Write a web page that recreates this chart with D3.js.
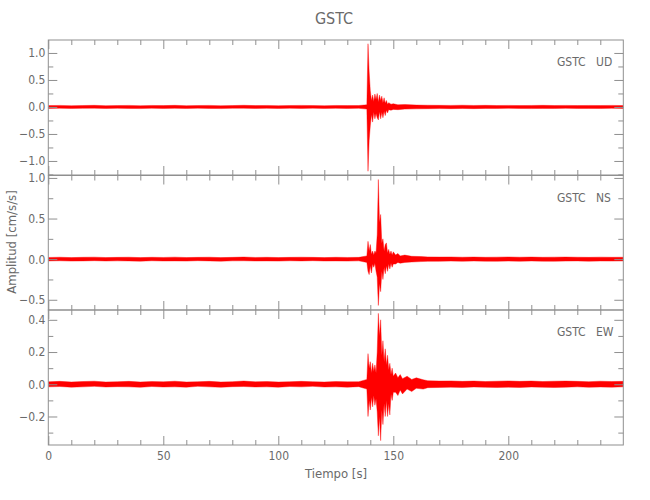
<!DOCTYPE html>
<html><head><meta charset="utf-8">
<script src="https://cdn.jsdelivr.net/npm/d3@7"></script>
<style>
body{margin:0;background:#fff}
text{font-family:"Liberation Sans Narrow","DejaVu Sans Condensed","Roboto Condensed",sans-serif;fill:#6a6a6a}
</style>
</head><body>
<svg id="c" width="650" height="500"></svg>
<script>
// ---------- DATA ----------
const station = "GSTC";
const components = ["UD", "NS", "EW"];
const xTickValues = [0, 50, 100, 150, 200];

// UD: time breakpoints [s], upper and lower envelope [cm/s/s]
const udTime = [0,5,10,15,20,25,30,35,40,45,50,55,60,65,70,75,80,85,90,95,100,105,110,115,120,125,130,135,
  138.5,139,139.5,140,140.5,141,141.5,142,142.5,143,143.5,144,144.5,145,145.5,146,146.5,147,147.5,148,
  149,150,152,155,
  160,165,170,175,180,185,190,195,200,205,210,215,220,225,230,235,240,245,250];
const udHigh = [0.025,0.029,0.023,0.027,0.030,0.024,0.026,0.029,0.023,0.028,0.025,0.030,0.024,0.027,0.029,0.023,0.026,0.031,0.025,0.028,0.024,0.027,0.029,0.026,0.023,0.028,0.025,0.027,
  0.04,1.17,0.65,0.30,0.12,0.22,0.10,0.24,0.14,0.25,0.09,0.22,0.12,0.20,0.08,0.17,0.07,0.12,0.05,0.08,
  0.05,0.06,0.04,0.045,
  0.035,0.032,0.030,0.029,0.032,0.028,0.030,0.027,0.029,0.026,0.028,0.030,0.027,0.029,0.026,0.028,0.027,0.029,0.026];
const udLow = [-0.027,-0.024,-0.028,-0.026,-0.023,-0.029,-0.025,-0.027,-0.030,-0.024,-0.028,-0.026,-0.029,-0.023,-0.027,-0.030,-0.025,-0.024,-0.028,-0.026,-0.029,-0.024,-0.027,-0.023,-0.028,-0.026,-0.029,-0.025,
  -0.04,-1.19,-0.62,-0.35,-0.14,-0.28,-0.10,-0.22,-0.12,-0.20,-0.24,-0.09,-0.22,-0.10,-0.20,-0.08,-0.16,-0.06,-0.11,-0.05,
  -0.06,-0.045,-0.05,-0.04,
  -0.035,-0.032,-0.030,-0.031,-0.028,-0.031,-0.027,-0.029,-0.026,-0.028,-0.030,-0.027,-0.029,-0.026,-0.028,-0.027,-0.029,-0.026,-0.028];

// NS
const nsTime = [0,5,10,15,20,25,30,35,40,45,50,55,60,65,70,75,80,85,90,95,100,105,110,115,120,125,130,135,
  138.5,139,139.5,140,140.5,141,141.5,142,142.5,143,143.5,144,144.5,145,145.5,146,146.5,147,147.5,148,148.5,149,149.5,150,
  151,152,153,155,158,162,
  165,170,175,180,185,190,195,200,205,210,215,220,225,230,235,240,245,250];
const nsHigh = [0.021,0.024,0.019,0.023,0.025,0.020,0.022,0.024,0.019,0.023,0.021,0.025,0.020,0.022,0.024,0.019,0.022,0.026,0.021,0.023,0.020,0.022,0.024,0.022,0.019,0.023,0.021,0.022,
  0.04,0.22,0.10,0.18,0.06,0.10,0.05,0.10,0.08,0.30,0.98,0.45,0.55,0.20,0.25,0.10,0.18,0.20,0.08,0.12,0.06,0.10,0.05,0.09,
  0.05,0.07,0.04,0.05,0.035,0.032,
  0.028,0.026,0.027,0.024,0.026,0.023,0.025,0.027,0.024,0.026,0.023,0.025,0.026,0.024,0.022,0.025,0.023,0.024];
const nsLow = [-0.022,-0.020,-0.024,-0.022,-0.019,-0.023,-0.021,-0.022,-0.025,-0.020,-0.023,-0.022,-0.024,-0.019,-0.022,-0.025,-0.021,-0.020,-0.023,-0.022,-0.024,-0.020,-0.022,-0.019,-0.023,-0.022,-0.024,-0.021,
  -0.04,-0.15,-0.19,-0.08,-0.17,-0.06,-0.10,-0.05,-0.15,-0.22,-0.57,-0.30,-0.40,-0.15,-0.25,-0.10,-0.18,-0.08,-0.15,-0.06,-0.12,-0.05,-0.10,-0.06,
  -0.06,-0.04,-0.05,-0.04,-0.035,-0.03,
  -0.027,-0.026,-0.024,-0.026,-0.023,-0.025,-0.026,-0.024,-0.026,-0.023,-0.025,-0.026,-0.024,-0.022,-0.025,-0.023,-0.024,-0.022];

// EW
const ewTime = [0,5,10,15,20,25,30,35,40,45,50,55,60,65,70,75,80,85,90,95,100,105,110,115,120,125,130,135,
  138.5,139,139.5,140,140.5,141,141.5,142,142.5,143,143.5,144,144.5,145,145.5,146,146.5,147,147.5,148,148.5,149,149.5,150,
  151,152,153,154,156,158,160,163,
  165,170,175,180,185,190,195,200,205,210,215,220,225,230,235,240,245,250];
const ewHigh = [0.015,0.018,0.014,0.017,0.019,0.014,0.016,0.018,0.014,0.017,0.015,0.019,0.014,0.016,0.018,0.014,0.016,0.020,0.015,0.017,0.014,0.016,0.018,0.016,0.014,0.017,0.015,0.016,
  0.03,0.19,0.10,0.14,0.07,0.13,0.08,0.12,0.07,0.20,0.44,0.30,0.40,0.18,0.27,0.14,0.22,0.12,0.18,0.09,0.13,0.06,0.10,0.05,
  0.07,0.04,0.06,0.035,0.05,0.03,0.04,0.028,
  0.022,0.020,0.021,0.018,0.020,0.017,0.019,0.021,0.018,0.020,0.017,0.019,0.020,0.018,0.016,0.019,0.017,0.018];
const ewLow = [-0.016,-0.014,-0.018,-0.016,-0.013,-0.017,-0.015,-0.016,-0.019,-0.014,-0.017,-0.016,-0.018,-0.013,-0.016,-0.019,-0.015,-0.014,-0.017,-0.016,-0.018,-0.014,-0.016,-0.013,-0.017,-0.016,-0.018,-0.015,
  -0.03,-0.20,-0.10,-0.16,-0.08,-0.14,-0.07,-0.13,-0.09,-0.17,-0.32,-0.20,-0.35,-0.16,-0.25,-0.12,-0.20,-0.10,-0.20,-0.12,-0.19,-0.06,-0.10,-0.05,
  -0.05,-0.07,-0.035,-0.06,-0.03,-0.045,-0.025,-0.03,
  -0.021,-0.020,-0.018,-0.020,-0.017,-0.019,-0.020,-0.018,-0.020,-0.017,-0.019,-0.020,-0.018,-0.016,-0.019,-0.017,-0.018,-0.016];

const udTicks = [-1.0, -0.5, 0.0, 0.5, 1.0];
const nsTicks = [-0.5, 0.0, 0.5, 1.0];
const ewTicks = [-0.2, 0.0, 0.2, 0.4];

// ---------- LAYOUT ----------
const svg = d3.select("#c");
const left = 48.3, right = 623.3;
const frameColor = "#8f8f8f";
const traceColor = "#ff0000";

const panels = [
  {comp: components[0], t: udTime, hi: udHigh, lo: udLow, domain: [-1.26, 1.24], ticks: udTicks, minorStep: 0.25, top: 40, bottom: 175},
  {comp: components[1], t: nsTime, hi: nsHigh, lo: nsLow, domain: [-0.626, 1.03], ticks: nsTicks, minorStep: 0.25, top: 175.5, bottom: 310},
  {comp: components[2], t: ewTime, hi: ewHigh, lo: ewLow, domain: [-0.377, 0.461], ticks: ewTicks, minorStep: 0.1, top: 310, bottom: 445}
];

const x = d3.scaleLinear().domain([0, 250]).range([left, right]);
const xMinor = d3.range(0, 251, 10).filter(v => v % 50 !== 0);
const fmt = d3.format(".1f");

panels.forEach((p, i) => {
  const y = d3.scaleLinear().domain(p.domain).range([p.bottom, p.top]);
  const g = svg.append("g");
  const clipId = "clip" + i;
  svg.append("clipPath").attr("id", clipId).append("rect")
    .attr("x", left).attr("y", p.top).attr("width", right - left).attr("height", p.bottom - p.top);

  // trace envelope
  const data = p.t.map((t, k) => ({t, hi: p.hi[k], lo: p.lo[k]}));
  const area = d3.area().x(d => x(d.t)).y0(d => y(d.lo)).y1(d => y(d.hi)).curve(d3.curveLinear);
  g.append("path").datum(data).attr("d", area)
    .attr("fill", traceColor).attr("stroke", traceColor).attr("stroke-width", 0.4)
    .attr("clip-path", `url(#${clipId})`);

  // minor y ticks
  const lo = Math.ceil(p.domain[0] / p.minorStep - 1e-9), hi = Math.floor(p.domain[1] / p.minorStep + 1e-9);
  const yMinor = d3.range(lo, hi + 1).map(k => +(k * p.minorStep).toFixed(3))
    .filter(v => !p.ticks.some(t => Math.abs(t - v) < 1e-6));

  const styleAxis = sel => {
    sel.select(".domain").remove();
    sel.selectAll("line").attr("stroke", frameColor);
    sel.selectAll("text").attr("fill", "#6a6a6a").style("font-size", "12px");
  };

  // left axis (labels)
  g.append("g").attr("transform", `translate(${left},0)`)
    .call(d3.axisLeft(y).tickValues(p.ticks).tickSize(-9).tickPadding(3).tickFormat(fmt))
    .call(styleAxis)
    .call(s => s.selectAll("text").attr("x", -3));
  g.append("g").attr("transform", `translate(${left},0)`)
    .call(d3.axisLeft(y).tickValues(yMinor).tickSize(-5).tickFormat(""))
    .call(styleAxis);
  // right axis
  g.append("g").attr("transform", `translate(${right},0)`)
    .call(d3.axisRight(y).tickValues(p.ticks).tickSize(-9).tickFormat(""))
    .call(styleAxis);
  g.append("g").attr("transform", `translate(${right},0)`)
    .call(d3.axisRight(y).tickValues(yMinor).tickSize(-5).tickFormat(""))
    .call(styleAxis);
  // top axis
  g.append("g").attr("transform", `translate(0,${p.top})`)
    .call(d3.axisTop(x).tickValues(xTickValues).tickSize(-9).tickFormat(""))
    .call(styleAxis);
  g.append("g").attr("transform", `translate(0,${p.top})`)
    .call(d3.axisTop(x).tickValues(xMinor).tickSize(-5).tickFormat(""))
    .call(styleAxis);
  // bottom axis
  const isLast = i === panels.length - 1;
  g.append("g").attr("transform", `translate(0,${p.bottom})`)
    .call(d3.axisBottom(x).tickValues(xTickValues).tickSize(-9).tickPadding(5)
      .tickFormat(isLast ? d3.format("d") : ""))
    .call(styleAxis)
    .call(s => s.selectAll("text").attr("y", 6));
  g.append("g").attr("transform", `translate(0,${p.bottom})`)
    .call(d3.axisBottom(x).tickValues(xMinor).tickSize(-5).tickFormat(""))
    .call(styleAxis);

  // frame
  g.append("rect").attr("x", left).attr("y", p.top).attr("width", right - left).attr("height", p.bottom - p.top)
    .attr("fill", "none").attr("stroke", frameColor).attr("stroke-width", 1);

  // panel label
  g.append("text").attr("x", 557).attr("y", p.top + 26).style("font-size", "12px").text(station);
  g.append("text").attr("x", 596).attr("y", p.top + 26).style("font-size", "12px").text(p.comp);
});

// title and axis labels
svg.append("text").attr("x", 334).attr("y", 24).attr("text-anchor", "middle").style("font-size", "16px").text(station);
svg.append("text").attr("x", 336).attr("y", 478).attr("text-anchor", "middle").style("font-size", "13px").text("Tiempo [s]");
svg.append("text").attr("transform", "translate(16,242) rotate(-90)").attr("text-anchor", "middle")
  .style("font-size", "13px").text("Amplitud [cm/s/s]");
</script>
</body></html>
